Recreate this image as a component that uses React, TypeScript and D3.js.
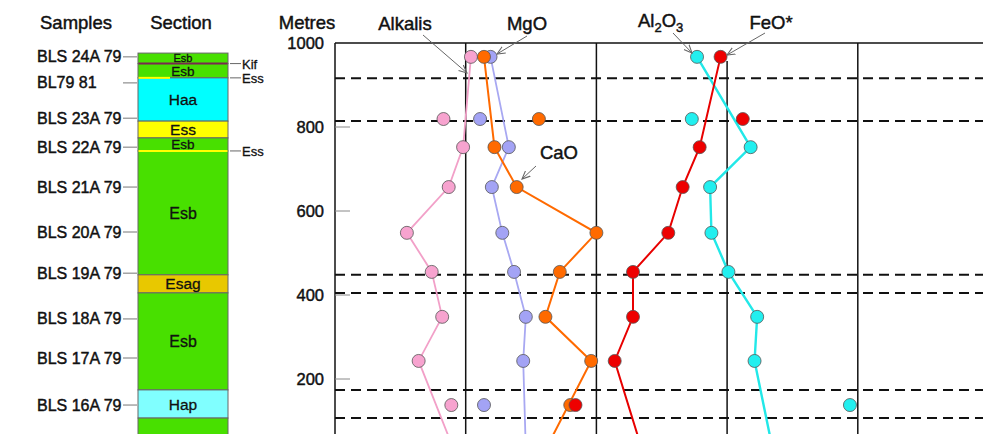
import React from "react";
import * as d3 from "d3";

// ---------- data ----------
const yTicks = [1000, 800, 600, 400, 200];

const sampleNames = [
  "BLS 24A 79", "BL79 81", "BLS 23A 79", "BLS 22A 79", "BLS 21A 79",
  "BLS 20A 79", "BLS 19A 79", "BLS 18A 79", "BLS 17A 79", "BLS 16A 79",
];
const sampleLabelDepths = [967, 905, 821, 752, 657, 550, 452, 343, 250, 138];

// depths (m) of analysed samples; last is below the visible area
const pointDepths = [967, 819, 752, 657, 548, 455, 348, 243, 138, 31];
// indices of analysed samples plotted as isolated points (not on trend line)
const isolatedIdx = [1, 8];

// values in relative panel units (0..5 across the plot)
const alkalis = [1.04, 0.83, 0.98, 0.87, 0.55, 0.74, 0.82, 0.64, 0.89, 0.91];
const mgo = [1.19, 1.11, 1.33, 1.2, 1.28, 1.37, 1.46, 1.44, 1.14, 1.46];
const cao = [1.14, 1.56, 1.22, 1.39, 2.0, 1.72, 1.61, 1.96, 1.8, 1.61];
const al2o3 = [2.77, 2.73, 3.18, 2.87, 2.88, 3.01, 3.23, 3.21, 3.94, 3.35];
const feo = [2.95, 3.12, 2.79, 2.66, 2.55, 2.28, 2.28, 2.14, 1.84, 2.35];

const seriesNames = ["Alkalis", "MgO", "CaO", "Al2O3", "FeO*"];
const seriesFill = ["#f7a3cf", "#a3a3f5", "#ff6a00", "#22efef", "#ee0000"];
const seriesLine = ["#f2a0c8", "#a8a8f2", "#ff6a00", "#22e8e8", "#e80000"];
const seriesWidth = [1.8, 1.8, 2, 2.4, 2];

// section: [top depth, bottom depth, name, colour]
const layerTops = [976, 951, 917, 814, 774, 743, 448, 405, 174, 107];
const layerBottoms = [951, 917, 814, 774, 743, 448, 405, 174, 107, -200];
const layerNames = ["Esb", "Esb", "Haa", "Ess", "Esb", "Esb", "Esag", "Esb", "Hap", ""];
const layerColors = ["#48e000", "#48e000", "#00ffff", "#ffff00", "#48e000", "#48e000", "#e8c800", "#48e000", "#80ffff", "#48e000"];
const layerFont = [11, 13.5, 15.5, 15.5, 13.5, 16, 15.5, 16, 15.5, 15];

const thinUnitNames = ["Kif", "Ess", "Ess"];
const thinUnitDepths = [951, 917, 743];
const thinUnitColors = ["#7a2850", "#ffff00", "#ffff00"];

const boundaryDepths = [916, 814, 448, 405, 174, 107];

const FONT = "'Liberation Sans', Arial, Helvetica, sans-serif";
const TXT = { fill: "#111", stroke: "#111", strokeWidth: 0.45 };

export default function App() {
  const W = 983, H = 434;
  const y = d3.scaleLinear().domain([0, 1000]).range([463, 43]);
  const x = d3.scaleLinear().domain([0, 5]).range([335, 988.5]);
  const colX0 = 138, colX1 = 228;

  const allSeries = [alkalis, mgo, cao, al2o3, feo];
  const line = d3
    .line<{ v: number; d: number }>()
    .x((p) => x(p.v))
    .y((p) => y(p.d));

  const arrows = [
    { x1: 423, y1: 35, x2: 467, y2: 73 },
    { x1: 527, y1: 36, x2: 497, y2: 54 },
    { x1: 536, y1: 166, x2: 522, y2: 179 },
    { x1: 673, y1: 33, x2: 692, y2: 53 },
    { x1: 765, y1: 33, x2: 727, y2: 55 },
  ];

  return (
    <svg
      width={W}
      height={H}
      style={{ position: "absolute", left: 0, top: 0, background: "#fff" }}
      fontFamily={FONT}
    >
      <defs>
        <marker id="ah" viewBox="0 0 10 10" refX="9" refY="5" markerWidth="9" markerHeight="9" orient="auto" markerUnits="userSpaceOnUse">
          <path d="M0,1 L9,5 L0,9" fill="none" stroke="#666" strokeWidth="1.2" />
        </marker>
      </defs>

      {/* headers */}
      <text x={76} y={29} fontSize={18.5} textAnchor="middle" {...TXT}>Samples</text>
      <text x={181} y={29} fontSize={18.5} textAnchor="middle" {...TXT}>Section</text>
      <text x={307} y={29} fontSize={18.5} textAnchor="middle" {...TXT}>Metres</text>

      {/* sample labels */}
      {sampleNames.map((n, i) => (
        <g key={n}>
          <text x={37} y={y(sampleLabelDepths[i]) + 5.5} fontSize={16} {...TXT}>{n}</text>
          <line x1={123} x2={137} y1={y(sampleLabelDepths[i])} y2={y(sampleLabelDepths[i])} stroke="#777" strokeWidth={1} />
        </g>
      ))}

      {/* section column */}
      {layerNames.map((n, i) => {
        const t = y(layerTops[i]);
        const b = Math.min(y(layerBottoms[i]), H + 5);
        return (
          <g key={i}>
            <rect x={colX0} y={t} width={colX1 - colX0} height={b - t} fill={layerColors[i]} stroke="#666" strokeWidth={1} />
            {n && (
              <text x={(colX0 + colX1) / 2} y={(t + b) / 2 + layerFont[i] * 0.36} fontSize={layerFont[i]} textAnchor="middle" fill="#111" stroke="#111" strokeWidth={0.3}>{n}</text>
            )}
          </g>
        );
      })}
      {thinUnitNames.map((n, i) => {
        const yy = y(thinUnitDepths[i]);
        return (
          <g key={"t" + i}>
            <line x1={colX0 + 0.5} x2={i === 1 ? 170 : colX1 - 0.5} y1={yy} y2={yy} stroke={thinUnitColors[i]} strokeWidth={2} />
            <line x1={230} x2={241} y1={yy} y2={yy} stroke="#666" strokeWidth={1} />
            <text x={242} y={yy + 5} fontSize={13} fill="#111" stroke="#111" strokeWidth={0.3}>{n}</text>
          </g>
        );
      })}

      {/* axis */}
      <line x1={x(0)} x2={W} y1={y(1000)} y2={y(1000)} stroke="#111" strokeWidth={1.5} />
      <line x1={x(0)} x2={x(0)} y1={y(1000)} y2={H} stroke="#111" strokeWidth={1.5} />
      {[1, 2, 3, 4].map((g) => (
        <line key={g} x1={x(g)} x2={x(g)} y1={g === 3 ? 61 : y(1000)} y2={H} stroke="#111" strokeWidth={1.5} />
      ))}
      {yTicks.map((t) => (
        <g key={t}>
          <text x={324} y={y(t) + 6} fontSize={16.5} textAnchor="end" {...TXT}>{t}</text>
          {t !== 1000 && <line x1={x(0)} x2={x(0) + 15} y1={y(t)} y2={y(t)} stroke="#888" strokeWidth={1} />}
        </g>
      ))}

      {/* boundaries */}
      {boundaryDepths.map((d) => (
        <line key={d} x1={x(0)} x2={W} y1={y(d)} y2={y(d)} stroke="#111" strokeWidth={2} strokeDasharray="10,6" />
      ))}

      {/* trend lines */}
      {allSeries.map((s, si) => {
        const pts = s
          .map((v, i) => ({ v, d: pointDepths[i], i }))
          .filter((p) => !isolatedIdx.includes(p.i));
        return <path key={si} d={line(pts) || ""} fill="none" stroke={seriesLine[si]} strokeWidth={seriesWidth[si]} />;
      })}

      {/* points */}
      {allSeries.map((s, si) => (
        <g key={"p" + si}>
          {s.slice(0, 9).map((v, i) => (
            <circle key={i} cx={x(v)} cy={y(pointDepths[i])} r={6.5} fill={seriesFill[si]} stroke="#555" strokeWidth={0.8} />
          ))}
        </g>
      ))}

      {/* annotations */}
      {arrows.map((a, i) => (
        <line key={"a" + i} x1={a.x1} y1={a.y1} x2={a.x2} y2={a.y2} stroke="#666" strokeWidth={1} markerEnd="url(#ah)" />
      ))}
      <text x={405} y={30} fontSize={18.5} textAnchor="middle" {...TXT}>{seriesNames[0]}</text>
      <text x={527} y={30} fontSize={18.5} textAnchor="middle" {...TXT}>{seriesNames[1]}</text>
      <text x={559} y={159} fontSize={18.5} textAnchor="middle" {...TXT}>{seriesNames[2]}</text>
      <text x={638} y={27} fontSize={18.5} {...TXT}>
        Al<tspan fontSize={13} dy={5}>2</tspan><tspan dy={-5}>O</tspan><tspan fontSize={13} dy={5}>3</tspan>
      </text>
      <text x={771} y={29} fontSize={18.5} textAnchor="middle" {...TXT}>{seriesNames[4]}</text>
    </svg>
  );
}
